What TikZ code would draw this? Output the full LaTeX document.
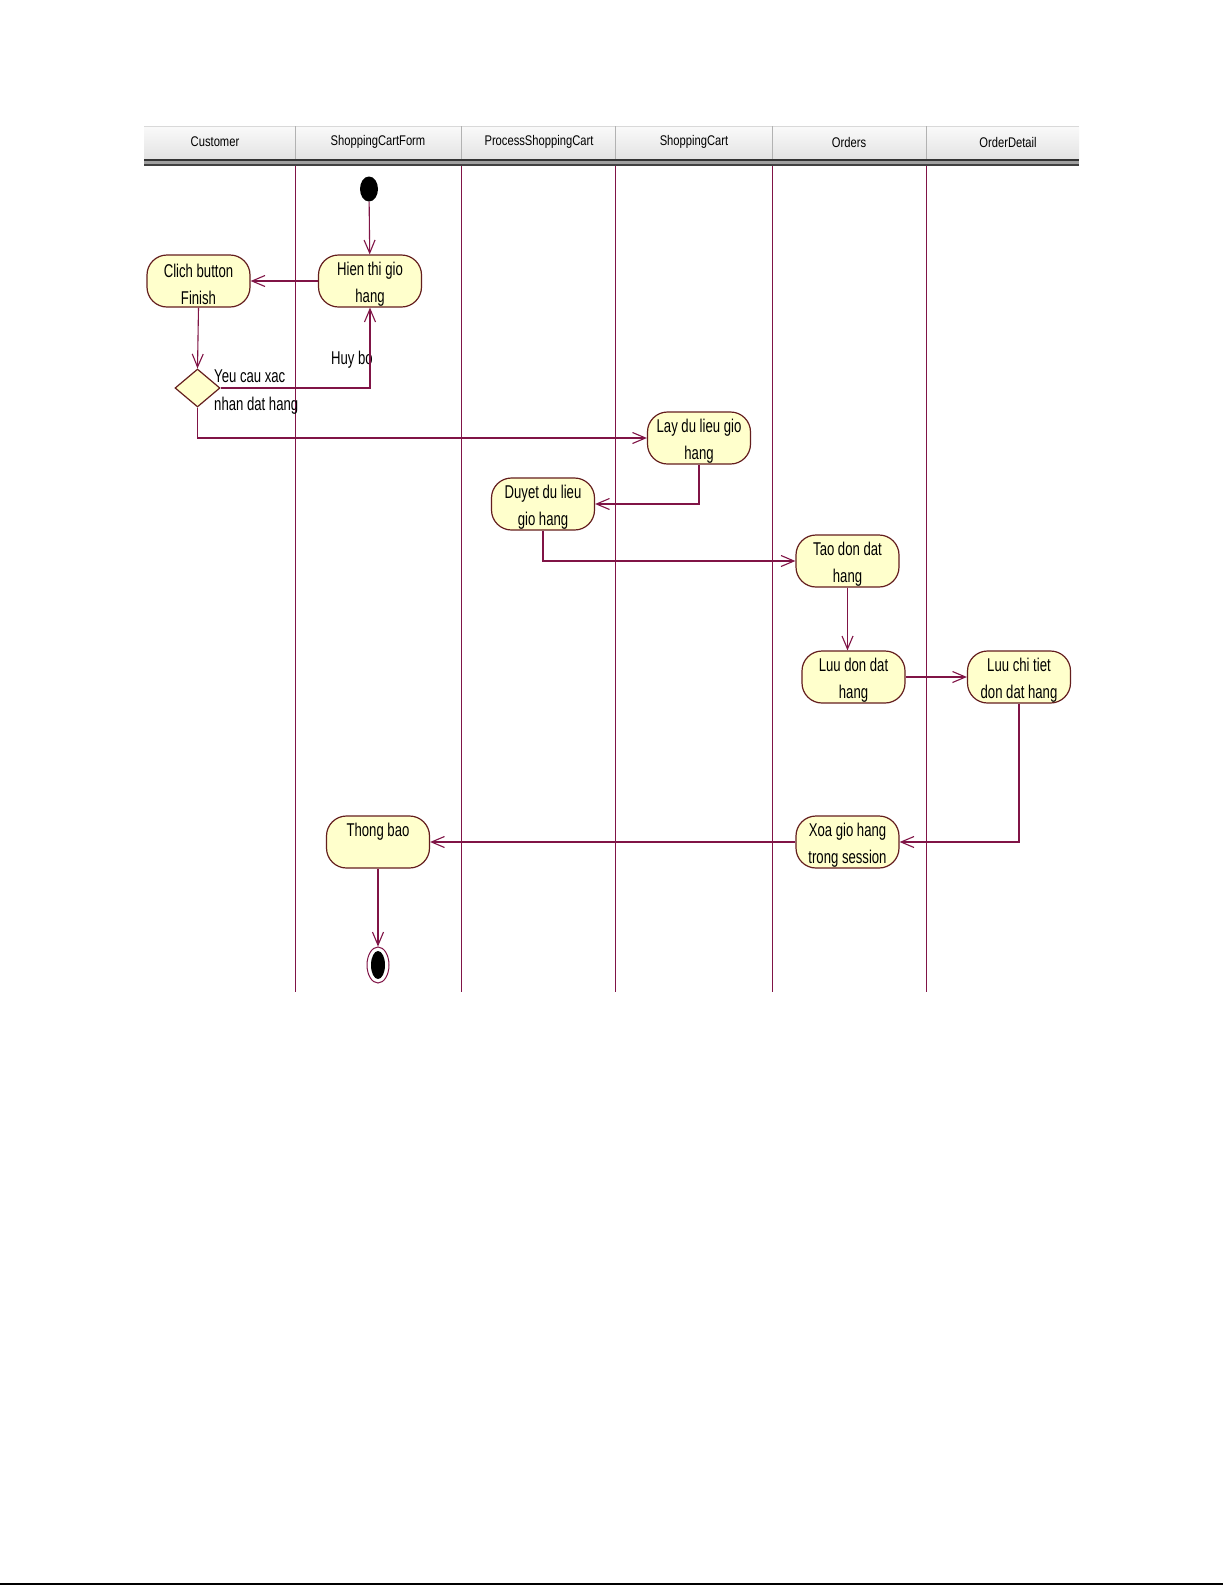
\documentclass[tikz,border=0pt]{standalone}
\usepackage{fontspec}
\setmainfont{Liberation Sans}
\newfontfamily\nodefont[FakeStretch=0.71]{Liberation Sans}
\newfontfamily\headfont[FakeStretch=0.8]{Liberation Sans}
\usetikzlibrary{shapes.geometric,arrows.meta}
\definecolor{lane}{RGB}{128,20,70}
\definecolor{conn}{RGB}{128,20,70}
\definecolor{actfill}{RGB}{255,255,204}
\definecolor{actline}{RGB}{100,30,30}
\newcommand\mytopstrut{\rule{0pt}{20pt}}
\tikzset{
  act/.style={draw=actline, fill=actfill, line width=1.2pt, rounded corners=20pt,
    minimum width=103pt, minimum height=52pt, inner sep=0pt, align=center,
    font=\nodefont\fontsize{18.5}{27}\selectfont},
  lbl/.style={inner sep=0pt, font=\nodefont\fontsize{18.5}{28}\selectfont},
  flow/.style={draw=conn, line width=1.1pt, -{Straight Barb[length=13pt,width=11pt]}},
  hdr/.style={inner sep=0pt, font=\headfont\fontsize{14}{16}\selectfont},
  laneline/.style={draw=lane, line width=1pt}
}
\begin{document}
\begin{tikzpicture}[x=1pt,y=-1pt]
\useasboundingbox (0,0) rectangle (1225,1585);
\fill[white] (0,0) rectangle (1225,1585);
% header
\shade[top color=gray!4, bottom color=gray!22] (144,126) rectangle (1079,159);
\fill[gray!75] (144,159) rectangle (1079,166);
\draw[gray!40!black, line width=1.2pt] (144,160) -- (1079,160);
\draw[gray!50!black, line width=1.2pt] (144,165) -- (1079,165);
\draw[gray!30, line width=0.6pt] (144,126) -- (1079,126);
\foreach \xx in {295,461,615,772,926} {
  \draw[gray!60, line width=0.8pt] (\xx,126) -- (\xx,159);
  \draw[laneline] (\xx,166) -- (\xx,992);
}
\node[hdr] (h1) at (215,142) {Customer};
\node[hdr] (h2) at (378,142) {ShoppingCartForm};
\node[hdr] (h3) at (539,142) {ProcessShoppingCart};
\node[hdr] (h4) at (694,142) {ShoppingCart};
\node[hdr] (h5) at (849,142) {Orders};
\node[hdr] (h6) at (1008,142) {OrderDetail};
% nodes
\node[ellipse, fill=black, minimum width=18pt, minimum height=25pt, inner sep=0pt] (start) at (369,189) {};
\node[act] (hien) at (370,281) {\mytopstrut Hien thi gio\\hang};
\node[act] (clich) at (198.5,281) {\mytopstrut Clich button\\Finish};
\node[diamond, draw=actline, fill=actfill, line width=1.2pt, minimum width=45pt, minimum height=38pt, inner sep=0pt] (dia) at (197.5,388) {};
\node[lbl, anchor=west, align=left] (yeu) at (214,392) {Yeu cau xac\\nhan dat hang};
\node[lbl] (huy) at (352,360) {Huy bo};
\node[act] (lay) at (699,438) {\mytopstrut Lay du lieu gio\\hang};
\node[act] (duyet) at (543,504) {\mytopstrut Duyet du lieu\\gio hang};
\node[act] (tao) at (847.5,561) {\mytopstrut Tao don dat\\hang};
\node[act] (luu) at (853.5,677) {\mytopstrut Luu don dat\\hang};
\node[act] (chitiet) at (1019,677) {\mytopstrut Luu chi tiet\\don dat hang};
\node[act] (xoa) at (847.5,842) {\mytopstrut Xoa gio hang\\trong session};
\node[act] (thong) at (378,842) {\mytopstrut Thong bao\\\phantom{g}};
\node[ellipse, draw=lane, line width=1pt, fill=white, minimum width=22pt, minimum height=36pt, inner sep=0pt] (end) at (378,965) {};
\node[ellipse, fill=black, minimum width=14pt, minimum height=28pt, inner sep=0pt] (endin) at (378,965) {};
% connectors
\draw[flow] (start) -- (hien);
\draw[flow] (hien.west) -- (clich.east);
\draw[flow] (clich.south) -- (dia.north);
\draw[flow] (dia.east) -| (hien.south);
\draw[flow] (dia.south) |- (lay.west);
\draw[flow] (lay.south) |- (duyet.east);
\draw[flow] (duyet.south) |- (tao.west);
\draw[flow] (tao.south) -- (tao.south |- luu.north);
\draw[flow] (luu.east) -- (chitiet.west);
\draw[flow] (chitiet.south) |- (xoa.east);
\draw[flow] (xoa.west) -- (thong.east);
\draw[flow] (thong.south) -- (end.north);
% page bottom rule
\draw[black, line width=2pt] (0,1583.5) -- (1223,1583.5);
\end{tikzpicture}
\end{document}
